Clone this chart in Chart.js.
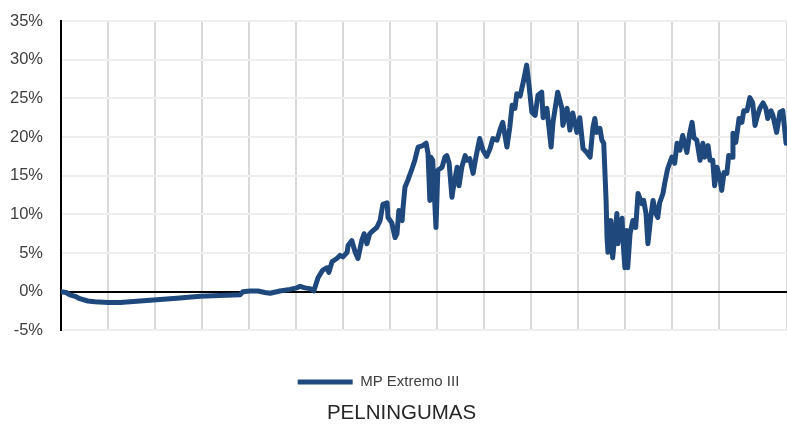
<!DOCTYPE html>
<html>
<head>
<meta charset="utf-8">
<script src="https://cdn.jsdelivr.net/npm/chart.js@4.4.0/dist/chart.umd.min.js"></script>
<style>
  html, body { margin: 0; padding: 0; background: #fff; }
  #wrap { width: 787px; height: 426px; }
</style>
</head>
<body>
<div id="wrap"><canvas id="pelnChart"></canvas></div>
<script>
// time in years from start and return in %
const periods = [0, 0.11, 0.19, 0.30, 0.40, 0.57, 0.72, 1.00, 1.26, 1.68, 2.11, 2.53, 2.96, 3.38, 3.81, 3.87,
  4.02, 4.19, 4.34, 4.45, 4.66, 4.87, 5.02, 5.09, 5.19, 5.30, 5.38, 5.47, 5.57, 5.66, 5.70, 5.77, 5.87, 5.94,
  6.00, 6.09, 6.11, 6.19, 6.26, 6.32, 6.40, 6.45, 6.51, 6.57, 6.64, 6.72, 6.79, 6.85, 6.94, 6.96, 7.04, 7.11,
  7.15, 7.19, 7.26, 7.28, 7.32, 7.38, 7.47, 7.53, 7.60, 7.70, 7.77, 7.81, 7.85, 7.87, 7.91, 7.98, 8.02, 8.11,
  8.17, 8.21, 8.26, 8.32, 8.34, 8.43, 8.47, 8.53, 8.60, 8.64, 8.70, 8.77, 8.83, 8.91, 8.98, 9.06, 9.13, 9.19,
  9.28, 9.34, 9.40, 9.49, 9.55, 9.60, 9.66, 9.70, 9.77, 9.83, 9.91, 9.96, 10.02, 10.09, 10.15, 10.23, 10.26,
  10.34, 10.43, 10.47, 10.57, 10.66, 10.68, 10.77, 10.83, 10.89, 10.98, 11.04, 11.11, 11.19, 11.26, 11.32,
  11.36, 11.40, 11.47, 11.51, 11.55, 11.60, 11.62, 11.64, 11.70, 11.74, 11.79, 11.83, 11.85, 11.89, 11.94,
  11.96, 12.00, 12.04, 12.06, 12.11, 12.17, 12.23, 12.28, 12.36, 12.40, 12.45, 12.49, 12.55, 12.60, 12.66,
  12.70, 12.74, 12.81, 12.85, 12.91, 13.00, 13.06, 13.11, 13.17, 13.23, 13.32, 13.38, 13.43, 13.47, 13.53,
  13.60, 13.66, 13.70, 13.77, 13.81, 13.87, 13.91, 13.96, 14.02, 14.06, 14.11, 14.17, 14.21, 14.28, 14.30,
  14.36, 14.43, 14.49, 14.53, 14.60, 14.66, 14.72, 14.77, 14.81, 14.87, 14.94, 15.00, 15.04, 15.11, 15.15,
  15.23, 15.30, 15.36, 15.43, 15.45];

const returns = [0, -0.1, -0.4, -0.6, -0.9, -1.2, -1.3, -1.4, -1.4, -1.2, -1.0, -0.8, -0.6, -0.5, -0.4, 0.0,
  0.1, 0.1, -0.1, -0.2, 0.1, 0.3, 0.5, 0.7, 0.5, 0.4, 0.1, 1.8, 2.8, 3.1, 2.5, 3.9, 4.3, 4.7,
  4.5, 5.1, 6.0, 6.6, 5.1, 4.3, 6.6, 7.5, 6.2, 7.5, 7.9, 8.3, 9.2, 11.3, 11.5, 9.6, 8.9, 7.0,
  7.5, 10.5, 9.2, 10.9, 13.5, 14.4, 15.9, 17.0, 18.7, 18.9, 19.2, 17.9, 11.8, 17.4, 17.0, 8.3, 15.7, 16.1,
  17.4, 17.6, 16.6, 12.2, 13.1, 16.1, 13.7, 16.1, 17.6, 17.0, 17.2, 15.3, 17.4, 19.8, 18.3, 17.5, 18.5, 19.8,
  19.6, 20.9, 21.9, 18.7, 21.2, 24.1, 23.7, 25.6, 25.3, 26.9, 29.3, 26.7, 23.2, 22.8, 25.4, 25.8, 22.5,
  23.7, 18.7, 21.9, 25.8, 23.7, 21.5, 23.7, 20.9, 23.1, 20.6, 22.5, 18.5, 18.0, 17.4, 21.2,
  22.4, 20.6, 21.1, 19.6, 19.2, 11.8, 7.0, 5.1, 9.2, 4.4, 7.5, 10.1, 6.2, 8.3, 9.5,
  6.6, 3.1, 7.9, 3.1, 7.5, 9.2, 8.3, 12.7, 11.4, 11.8, 10.1, 6.2, 9.6, 11.8, 10.1,
  9.6, 11.5, 12.7, 14.1, 15.9, 17.4, 16.6, 19.2, 18.3, 20.2, 18.0, 20.5, 21.9, 19.9, 19.6,
  17.0, 19.2, 17.4, 18.9, 17.0, 17.0, 13.7, 16.1, 14.8, 13.1, 15.4, 15.3, 17.6, 17.4, 20.5,
  19.3, 22.4, 21.9, 23.4, 23.4, 25.1, 24.4, 21.5, 22.5, 23.7, 24.4, 23.7, 22.4, 23.4, 22.8,
  20.6, 23.2, 23.4, 19.2, 19.6];

const yTicks = [-5, 0, 5, 10, 15, 20, 25, 30, 35];
const seriesName = 'MP Extremo III';
const chartTitle = 'PELNINGUMAS';

const lineColor = '#1F497D';
const font = '"Liberation Sans", Arial, sans-serif';

const points = periods.map((t, i) => ({ x: t, y: returns[i] }));

// nudge legend left and title right, like the original layout
const nudgeBoxes = {
  id: 'nudgeBoxes',
  afterLayout(chart) {
    if (chart.legend) { chart.legend.left -= 15; chart.legend.right -= 15; }
    if (chart.titleBlock) { chart.titleBlock.left += 8; chart.titleBlock.right += 8; }
  }
};

new Chart(document.getElementById('pelnChart'), {
  type: 'line',
  data: {
    datasets: [{
      label: seriesName,
      data: points,
      borderColor: lineColor,
      backgroundColor: lineColor,
      borderWidth: 5,
      borderCapStyle: 'round',
      borderJoinStyle: 'round',
      pointRadius: 0,
      tension: 0
    }]
  },
  options: {
    responsive: true,
    maintainAspectRatio: false,
    animation: false,
    layout: {
      padding: { top: 21, right: 0, left: 0, bottom: 0 }
    },
    scales: {
      x: {
        type: 'linear',
        min: 0,
        max: periods[periods.length - 1],
        ticks: { display: false, stepSize: 1 },
        grid: { color: '#d9d9d9', lineWidth: 2, drawTicks: false },
        border: { display: false },
        afterFit: (axis) => { axis.height = 40; }
      },
      y: {
        min: yTicks[0],
        max: yTicks[yTicks.length - 1],
        afterBuildTicks: (axis) => { axis.ticks = yTicks.map(v => ({ value: v })); },
        afterFit: (axis) => {
          axis.width = 61;
          axis.paddingTop = 0;
          axis.paddingBottom = 0;
        },
        ticks: {
          padding: 18,
          color: '#404040',
          font: { family: font, size: 16.5 },
          callback: (v) => v + '%'
        },
        grid: {
          drawTicks: false,
          lineWidth: 2,
          color: (c) => c.tick && c.tick.value === 0 ? '#000000' : '#eeeeee'
        },
        border: { display: true, color: '#000000', width: 2 }
      }
    },
    plugins: {
      legend: {
        position: 'bottom',
        labels: {
          usePointStyle: true,
          pointStyle: 'line',
          pointStyleWidth: 55,
          color: '#404040',
          font: { family: font, size: 15 },
          padding: 4
        }
      },
      title: {
        display: true,
        text: chartTitle,
        position: 'bottom',
        color: '#262626',
        font: { family: font, size: 20.5, weight: 'normal' },
        padding: { top: 2, bottom: 0 }
      },
      tooltip: { enabled: false }
    }
  },
  plugins: [nudgeBoxes]
});
</script>
</body>
</html>
